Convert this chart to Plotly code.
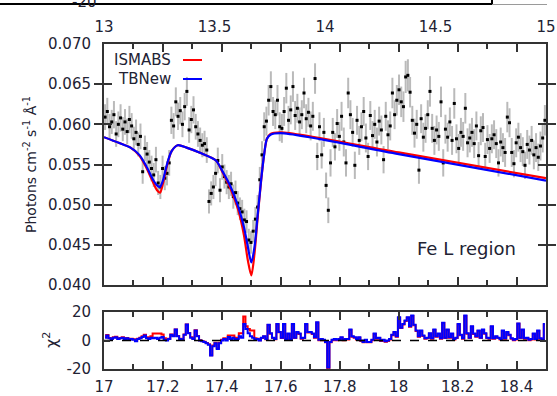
import plotly.graph_objects as go

W, H = 557, 396

# ---------------- data ----------------
wave_start, wave_step, n_bins = 17.00375, 0.0075, 200
wavelength = [round(wave_start + wave_step * i, 5) for i in range(n_bins)]

flux = [
    0.0609, 0.0616, 0.0597, 0.0603, 0.0612, 0.0588, 0.0600, 0.0608, 0.0594, 0.0603,
    0.0591, 0.0606, 0.0598, 0.0582, 0.0590, 0.0575, 0.0585, 0.0541, 0.0570, 0.0563,
    0.0553, 0.0545, 0.0537, 0.0556, 0.0527, 0.0522, 0.0545, 0.0533, 0.0539, 0.0552,
    0.0605, 0.0598, 0.0628, 0.0610, 0.0617, 0.0600, 0.0622, 0.0641, 0.0593, 0.0606,
    0.0618, 0.0597, 0.0588, 0.0580, 0.0574, 0.0576, 0.0568, 0.0504, 0.0514, 0.0522,
    0.0539, 0.0555, 0.0518, 0.0547, 0.0535, 0.0528, 0.0522, 0.0526, 0.0510, 0.0515,
    0.0502, 0.0495, 0.0491, 0.0481, 0.0479, 0.0456, 0.0453, 0.0467, 0.0482, 0.0497,
    0.0531, 0.0562, 0.0597, 0.0604, 0.0630, 0.0647, 0.0616, 0.0612, 0.0630, 0.0597,
    0.0595, 0.0616, 0.0645, 0.0605, 0.0618, 0.0647, 0.0611, 0.0620, 0.0603, 0.0612,
    0.0639, 0.0607, 0.0615, 0.0598, 0.0610, 0.0657, 0.0560, 0.0597, 0.0562, 0.0590,
    0.0524, 0.0493, 0.0552, 0.0590, 0.0572, 0.0601, 0.0585, 0.0610, 0.0578, 0.0552,
    0.0639, 0.0612, 0.0590, 0.0549, 0.0605, 0.0580, 0.0597, 0.0616, 0.0583, 0.0560,
    0.0611, 0.0586, 0.0600, 0.0578, 0.0604, 0.0593, 0.0556, 0.0610, 0.0587, 0.0598,
    0.0639, 0.0612, 0.0630, 0.0643, 0.0628, 0.0622, 0.0659, 0.0661, 0.0640, 0.0605,
    0.0589, 0.0600, 0.0543, 0.0607, 0.0584, 0.0595, 0.0612, 0.0641, 0.0595, 0.0580,
    0.0593, 0.0585, 0.0628, 0.0552, 0.0594, 0.0584, 0.0603, 0.0580, 0.0626, 0.0582,
    0.0570, 0.0590, 0.0585, 0.0620, 0.0577, 0.0583, 0.0590, 0.0576, 0.0598, 0.0561,
    0.0592, 0.0596, 0.0560, 0.0581, 0.0570, 0.0582, 0.0587, 0.0576, 0.0552, 0.0578,
    0.0571, 0.0565, 0.0609, 0.0602, 0.0565, 0.0551, 0.0577, 0.0584, 0.0571, 0.0566,
    0.0549, 0.0575, 0.0568, 0.0580, 0.0562, 0.0571, 0.0559, 0.0573, 0.0583, 0.0605,
]

flux_err = [
    0.0016, 0.0017, 0.0016, 0.0015, 0.0017, 0.0016, 0.0016, 0.0017, 0.0015, 0.0016,
    0.0016, 0.0017, 0.0016, 0.0015, 0.0016, 0.0015, 0.0016, 0.0015, 0.0016, 0.0015,
    0.0015, 0.0016, 0.0015, 0.0016, 0.0015, 0.0015, 0.0016, 0.0015, 0.0015, 0.0016,
    0.0017, 0.0016, 0.0018, 0.0017, 0.0017, 0.0016, 0.0017, 0.0018, 0.0016, 0.0017,
    0.0017, 0.0016, 0.0016, 0.0016, 0.0015, 0.0016, 0.0016, 0.0015, 0.0015, 0.0015,
    0.0016, 0.0016, 0.0015, 0.0016, 0.0015, 0.0015, 0.0015, 0.0015, 0.0015, 0.0015,
    0.0015, 0.0014, 0.0015, 0.0014, 0.0014, 0.0014, 0.0014, 0.0014, 0.0015, 0.0015,
    0.0016, 0.0017, 0.0018, 0.0018, 0.0019, 0.0019, 0.0018, 0.0018, 0.0019, 0.0018,
    0.0018, 0.0018, 0.0019, 0.0018, 0.0018, 0.0019, 0.0018, 0.0018, 0.0018, 0.0018,
    0.0019, 0.0018, 0.0018, 0.0018, 0.0018, 0.0019, 0.0017, 0.0018, 0.0017, 0.0018,
    0.0016, 0.0016, 0.0017, 0.0018, 0.0017, 0.0018, 0.0018, 0.0018, 0.0018, 0.0017,
    0.0019, 0.0018, 0.0018, 0.0017, 0.0018, 0.0018, 0.0018, 0.0018, 0.0018, 0.0017,
    0.0018, 0.0018, 0.0018, 0.0018, 0.0018, 0.0018, 0.0017, 0.0018, 0.0018, 0.0018,
    0.0019, 0.0018, 0.0019, 0.0019, 0.0019, 0.0019, 0.0020, 0.0020, 0.0019, 0.0018,
    0.0018, 0.0018, 0.0017, 0.0018, 0.0018, 0.0018, 0.0018, 0.0019, 0.0018, 0.0018,
    0.0018, 0.0018, 0.0019, 0.0017, 0.0018, 0.0018, 0.0018, 0.0018, 0.0019, 0.0018,
    0.0018, 0.0018, 0.0018, 0.0019, 0.0018, 0.0018, 0.0018, 0.0018, 0.0018, 0.0017,
    0.0018, 0.0018, 0.0017, 0.0018, 0.0018, 0.0018, 0.0018, 0.0018, 0.0017, 0.0018,
    0.0018, 0.0018, 0.0019, 0.0018, 0.0018, 0.0017, 0.0018, 0.0018, 0.0018, 0.0018,
    0.0017, 0.0018, 0.0018, 0.0018, 0.0018, 0.0018, 0.0017, 0.0018, 0.0018, 0.0019,
]

model_x = [17.00, 17.05, 17.09, 17.12, 17.145, 17.165, 17.18, 17.19, 17.20, 17.21,
           17.22, 17.23, 17.25, 17.28, 17.33, 17.38, 17.40, 17.43, 17.455, 17.475,
           17.488, 17.50, 17.511, 17.521, 17.533, 17.544, 17.553, 17.565, 17.60, 18.00, 18.50]
model_tbnew = [0.0584, 0.0577, 0.0571, 0.0562, 0.0547, 0.0532, 0.0524, 0.0522, 0.0530, 0.0545,
               0.0558, 0.0567, 0.0574, 0.0571, 0.0564, 0.0555, 0.0543, 0.0522, 0.0498, 0.0472,
               0.0448, 0.0428, 0.0448, 0.0485, 0.0530, 0.0564, 0.0582, 0.0587, 0.0589, 0.0563, 0.0530]
model_ismabs = [0.0584, 0.0577, 0.0571, 0.0561, 0.0545, 0.0529, 0.0518, 0.0515, 0.0526, 0.0543,
                0.0557, 0.0567, 0.0574, 0.0571, 0.0564, 0.0555, 0.0542, 0.0519, 0.0494, 0.0462,
                0.0431, 0.0412, 0.0440, 0.0482, 0.0529, 0.0564, 0.0582, 0.0588, 0.0590, 0.0565, 0.0533]

resid_tbnew = [
    2, 3.5, 1.5, 1, 2, 2.3, 1, 1.5, 2, 1,
    1.5, 0.5, 1, 0.5, -0.5, 1, 1.5, 2.5, 3.5, 1.5,
    1, 2, 1.5, 2, 1, 2, 2.5, 0.5, 0, 1,
    4, 3, 7.7, 3, 1, 0.5, 4, 11.2, 5, 2,
    1, 7, 3, 0, -0.5, -1, -2, -3, -10.5, -4,
    -2, -6, -2, 0, 1, 0, 2.5, 1, 2, 1,
    1, 3, 2, 11.6, 8, 5, 3, 2, 0.5, 1,
    0, 2, 3, 1, 11, 5, 2, 1, 11.6, 6,
    2, 11.6, 1, 4.9, 1, 11.6, 2, 6, 4.9, 1.5,
    2, 11.6, 6, 6, 4.9, 2.3, 12.8, 0.5, 1, 0.5,
    -1, -19, -1, 0.5, 1, 0.5, 1, 2.3, 0.5, 1,
    1, 7.7, 3, 2.3, 1, 2.3, 0, -1, 0.5, -1,
    -1, 0.5, 4.9, 1.5, 2, 0, 0.5, -0.5, 0, 1,
    4, 6, 3, 16.3, 9, 11.6, 14, 16.3, 10, 17.5,
    11, 7, 3, 7, 3.5, 1.5, 2, 5, 1.5, 7.7,
    3, 4.9, 1.5, 12.5, 2, 7.7, 2.3, 4.9, 1, 2,
    11.6, 4, 1.5, 17.5, 5, 2, 10, 4.9, 3, 7,
    2, 7.7, 5, 2, 1.5, 10, 1.5, 3, 2, 1,
    7, 1.5, 6, 4, 1.5, 0.5, 1, 12, 2, 7.7,
    1.5, 2, 0.5, 1, 4.9, 1, 7, 1.5, 0.5, 11.6,
]
resid_ismabs = [
    2.3, 3.8, 1.8, 1.3, 2.3, 2.6, 1.3, 1.8, 2.3, 1.3,
    1.8, 0.8, 1.3, 0.8, -0.2, 1.3, 2, 3, 4, 2.2,
    2, 3, 4.9, 4.9, 4.9, 4.9, 4.2, 1.5, 0.5, 1.3,
    4.2, 3.2, 7.7, 3.2, 1.2, 0.7, 4.2, 11.2, 5.2, 2.2,
    1.2, 7.2, 3.2, 0.2, -0.3, -0.8, -1.8, -2.7, -10.3, -3.5,
    -1.5, -5.5, -1.5, 0.5, 1.5, 1, 3.5, 3.5, 3.5, 2,
    2, 5, 5, 16.8, 10, 8, 7, 7, 1.5, 1.2,
    0.2, 1.8, 2.8, 0.8, 10.8, 4.8, 1.8, 0.8, 11.4, 5.8,
    1.8, 11.4, 0.8, 4.6, 0.7, 11.3, 1.7, 5.7, 4.6, 1.2,
    1.7, 11.3, 5.7, 5.7, 4.6, 2, 12.5, 0.2, 0.7, 0.2,
    -1.3, -21, -1.3, 0.2, 0.7, 0.2, 0.7, 2, 0.2, 0.7,
    0.7, 7.4, 2.7, 2, 0.7, 2, -0.3, -1.3, 0.2, -1.3,
    -1.3, 0.2, 4.6, 1.2, 1.7, -0.3, 0.2, -0.8, -0.3, 0.7,
    3.7, 5.7, 2.7, 16, 8.7, 11.3, 13.7, 16, 9.7, 17.2,
    10.7, 6.7, 2.7, 6.7, 3.2, 1.2, 1.7, 4.7, 1.2, 7.4,
    2.7, 4.6, 1.2, 12.2, 1.7, 7.4, 2, 4.6, 0.7, 1.7,
    11.3, 3.7, 1.2, 17.2, 4.7, 1.7, 9.7, 4.6, 2.7, 6.7,
    1.7, 7.4, 4.7, 1.7, 1.2, 9.7, 1.2, 2.7, 1.7, 0.7,
    6.7, 1.2, 5.7, 3.7, 1.2, 0.2, 0.7, 11.7, 1.7, 7.4,
    1.2, 1.7, 0.2, 0.7, 4.6, 0.7, 6.7, 1.2, 0.2, 11.3,
]

flux_ticks = [0.040, 0.045, 0.050, 0.055, 0.060, 0.065, 0.070]
flux_ticktext = ["0.040", "0.045", "0.050", "0.055", "0.060", "0.065", "0.070"]
wave_ticks = [17.0, 17.2, 17.4, 17.6, 17.8, 18.0, 18.2, 18.4]
wave_ticktext = ["17", "17.2", "17.4", "17.6", "17.8", "18", "18.2", "18.4"]
wave_minor = [17.1, 17.3, 17.5, 17.7, 17.9, 18.1, 18.3]
resid_ticks = [-20, 0, 20]
resid_ticktext = ["-20", "0", "20"]
top_ticks = [13, 13.5, 14, 14.5, 15]
top_ticktext = ["13", "13.5", "14", "14.5", "15"]

legend_names = ["ISMABS", "TBNew"]
legend_colors = ["#ff0000", "#0000ff"]

# ---------------- figure ----------------
AX = "#333333"
TXT = "#222233"
FONT = "DejaVu Sans"

fig = go.Figure()

fig.add_trace(go.Scatter(
    x=wavelength, y=flux, mode="markers",
    marker=dict(symbol="square", size=3, color="black"),
    error_y=dict(type="data", array=flux_err, visible=True, color="#bababa",
                 thickness=2, width=0),
    xaxis="x", yaxis="y", hoverinfo="skip"))

fig.add_trace(go.Scatter(x=model_x, y=model_ismabs, mode="lines",
                         line=dict(color=legend_colors[0], width=2.2, shape="spline", smoothing=0.8),
                         xaxis="x", yaxis="y", name=legend_names[0]))
fig.add_trace(go.Scatter(x=model_x, y=model_tbnew, mode="lines",
                         line=dict(color=legend_colors[1], width=2.2, shape="spline", smoothing=0.8),
                         xaxis="x", yaxis="y", name=legend_names[1]))

# residuals
fig.add_trace(go.Scatter(x=wavelength, y=resid_ismabs, mode="lines",
                         line=dict(color=legend_colors[0], width=2, shape="hvh"),
                         xaxis="x2", yaxis="y2"))
fig.add_trace(go.Scatter(x=wavelength, y=resid_tbnew, mode="lines",
                         line=dict(color=legend_colors[1], width=2, shape="hvh"),
                         xaxis="x2", yaxis="y2"))
fig.add_trace(go.Scatter(x=[17.0, 18.5], y=[0, 0], mode="lines",
                         line=dict(color="black", width=1.3, dash="dash"),
                         xaxis="x2", yaxis="y2"))

# invisible trace so the upper (cropped panel) axis is drawn
fig.add_trace(go.Scatter(x=[13, 15], y=[None, None], mode="markers",
                         marker=dict(opacity=0), xaxis="x3", yaxis="y", hoverinfo="skip"))

x_dom = [104 / W, 546 / W]
common_x = dict(domain=x_dom, range=[17.0, 18.5], showgrid=False, zeroline=False,
                showline=True, linewidth=2, linecolor=AX, mirror="allticks",
                ticks="inside", ticklen=8, tickwidth=1.5, tickcolor=AX,
                tickvals=wave_ticks, automargin=False,
                minor=dict(tickvals=wave_minor, ticks="inside", ticklen=5,
                           tickwidth=1.5, tickcolor=AX))

fig.update_layout(
    width=W, height=H, margin=dict(l=0, r=0, t=0, b=0, pad=0, autoexpand=False),
    paper_bgcolor="white", plot_bgcolor="white", showlegend=False,
    font=dict(family=FONT, size=15, color=TXT),
    xaxis=dict(anchor="y", showticklabels=False, **common_x),
    yaxis=dict(domain=[1 - 285 / H, 1 - 44 / H], range=[0.040, 0.070], anchor="x",
               tickvals=flux_ticks, ticktext=flux_ticktext, showgrid=False, zeroline=False,
               showline=True, linewidth=2, linecolor=AX, mirror="allticks",
               ticks="inside", ticklen=8, tickwidth=1.5, tickcolor=AX, automargin=False,
               ticklabelstandoff=8, tickfont=dict(size=15, color=TXT)),
    xaxis2=dict(anchor="y2", ticktext=wave_ticktext, ticklabelstandoff=3,
                tickfont=dict(size=15, color=TXT), **common_x),
    yaxis2=dict(domain=[1 - 369 / H, 1 - 312 / H], range=[-20, 20], anchor="x2",
                tickvals=resid_ticks, ticktext=resid_ticktext, showgrid=False, zeroline=False,
                showline=True, linewidth=2, linecolor=AX, mirror="allticks",
                ticks="inside", ticklen=6, tickwidth=1.5, tickcolor=AX, automargin=False,
                ticklabelstandoff=8, tickfont=dict(size=15, color=TXT)),
    xaxis3=dict(overlaying="x", side="top", anchor="free", position=1 - 35 / H,
                range=[13, 15], tickvals=top_ticks, ticktext=top_ticktext, automargin=False,
                showline=False, ticks="", showgrid=False, zeroline=False,
                tickfont=dict(size=15, color=TXT)),
)

annotations = [
    dict(text="Photons cm<sup>-2</sup> s<sup>-1</sup> Å<sup>-1</sup>", x=30 / W, y=1 - 165 / H,
         xref="paper", yref="paper", textangle=-90, showarrow=False,
         font=dict(size=14, color=TXT), xanchor="center", yanchor="middle"),
    dict(text="χ<sup>2</sup>", x=50 / W, y=1 - 340 / H, xref="paper", yref="paper",
         textangle=-90, showarrow=False, font=dict(size=16, color=TXT),
         xanchor="center", yanchor="middle"),
    dict(text="Fe L region", x=466 / W, y=1 - 248 / H, xref="paper", yref="paper",
         showarrow=False, font=dict(size=18, color=TXT), xanchor="center", yanchor="middle"),
    dict(text="-20", x=84 / W, y=1 - 2 / H, xref="paper", yref="paper",
         showarrow=False, font=dict(size=15, color=TXT), xanchor="center", yanchor="middle"),
]
legend_y = [60, 79]
for name, ly in zip(legend_names, legend_y):
    annotations.append(dict(text=name, x=173 / W, y=1 - ly / H, xref="paper", yref="paper",
                            showarrow=False, font=dict(size=15, color=TXT),
                            xanchor="right", yanchor="middle"))
fig.update_layout(annotations=annotations)

shapes = []
for col, ly in zip(legend_colors, legend_y):
    shapes.append(dict(type="line", xref="paper", yref="paper", x0=183 / W, x1=202 / W,
                       y0=1 - ly / H, y1=1 - ly / H, line=dict(color=col, width=2)))
# remnants of the panel above (cropped)
shapes.append(dict(type="rect", xref="paper", yref="paper", x0=-5 / W, x1=492 / W,
                   y0=1 - 4 / H, y1=1 + 10 / H, line=dict(color="black", width=2)))
shapes.append(dict(type="line", xref="paper", yref="paper", x0=492 / W, x1=547 / W,
                   y0=1 - 4.5 / H, y1=1 - 4.5 / H, line=dict(color="#9a9a9a", width=1)))
fig.update_layout(shapes=shapes)

fig.write_html("out.html")
